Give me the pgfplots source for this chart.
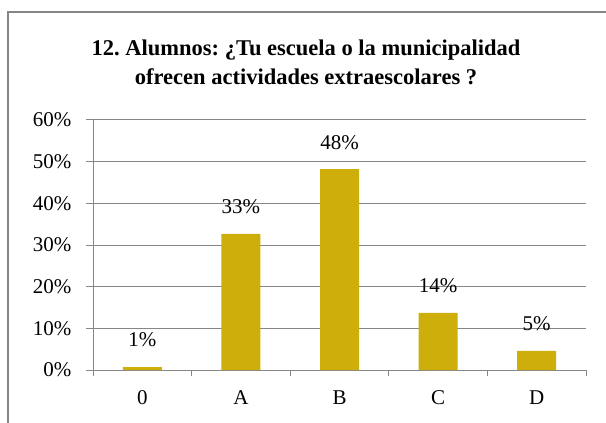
\documentclass[border=0pt]{standalone}
\usepackage{pgfplots}
\pgfplotsset{compat=1.18}
\usepackage{fontspec}
\setmainfont{Liberation Serif}
\frenchspacing
\definecolor{barc}{RGB}{205,174,11}
\definecolor{axc}{RGB}{134,134,134}
\pgfplotstableread{
x y lab
0 0.7 1\%
1 32.7 33\%
2 48.2 48\%
3 13.7 14\%
4 4.6 5\%
}\datatab
\begin{document}
\begin{tikzpicture}[x=1bp,y=1bp]
\clip (0,0) rectangle (606,422);
\path[use as bounding box] (0,0) rectangle (606,422);
\fill[white] (0,0) rectangle (606,422);
\draw[axc, line width=1.2bp] (8,-10) rectangle (640,410);
\node[font=\fontsize{22.5bp}{29bp}\selectfont\bfseries, align=center] at (306,360) {12. Alumnos: ¿Tu escuela o la municipalidad\\ofrecen actividades extraescolares ?};
\begin{axis}[
  at={(93bp,52bp)}, anchor=south west,
  scale only axis, width=493bp, height=250bp,
  xmin=-0.5, xmax=4.5, ymin=0, ymax=60,
  axis lines=left, axis line style={-, axc, line width=1bp},
  xtick={0,1,2,3,4}, xticklabels={0,A,B,C,D},
  major x tick style={draw=none},
  minor xtick={-0.5,0.5,1.5,2.5,3.5,4.5},
  minor x tick style={axc, line width=1bp},
  minor tick length=6bp,
  ytick={0,10,...,60},
  yticklabels={0\%,10\%,20\%,30\%,40\%,50\%,60\%},
  major tick length=7bp,
  tick align=outside,
  y tick style={axc, line width=1bp},
  ymajorgrids, grid style={axc, line width=1bp},
  tick label style={font=\fontsize{21bp}{24bp}\selectfont},
  yticklabel style={xshift=-11bp},
  xticklabel style={yshift=-10bp},
  ybar, bar width=39bp,
  point meta=explicit symbolic,
  nodes near coords,
  every node near coord/.append style={anchor=center, yshift=27bp, font=\fontsize{21bp}{24bp}\selectfont, text=black},
]
\addplot[fill=barc, draw=none] table[x=x, y=y, meta=lab] {\datatab};
\end{axis}
\end{tikzpicture}
\end{document}
